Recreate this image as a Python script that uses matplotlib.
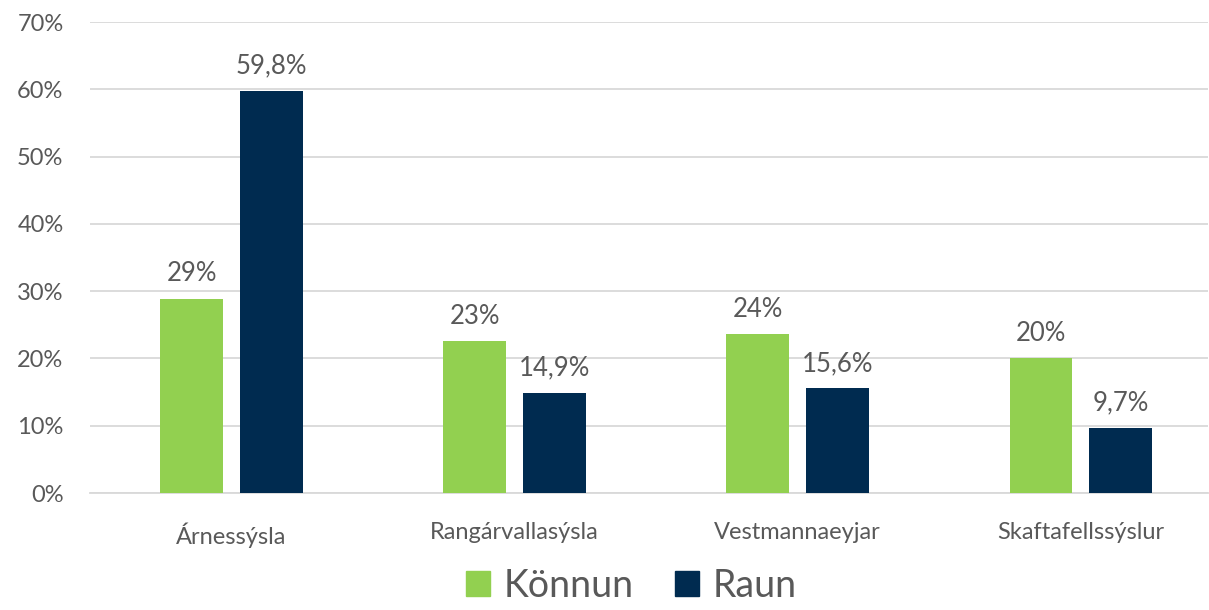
import matplotlib
matplotlib.use('Agg')
from matplotlib import pyplot as plt
from matplotlib.patches import Patch
import numpy as np

plt.rcParams['font.family'] = ['Lato', 'DejaVu Sans']

# Data
categories = ['Árnessýsla', 'Rangárvallasýsla', 'Vestmannaeyjar', 'Skaftafellssýslur']
series_names = ['Könnun', 'Raun']
konnun = [28.9, 22.6, 23.6, 20.0]
raun = [59.8, 14.9, 15.6, 9.7]
konnun_labels = ['29%', '23%', '24%', '20%']
raun_labels = ['59,8%', '14,9%', '15,6%', '9,7%']
yticks = [0, 10, 20, 30, 40, 50, 60, 70]

green = '#92D050'
navy = '#002B50'
grey = '#595959'

fig = plt.figure(figsize=(12.09, 6.10), dpi=100)
ax = fig.add_axes([0.0744, 0.1918, 0.925, 0.772])

x = np.arange(len(categories))
w = 0.222
off = 0.141
b1 = ax.bar(x - off, konnun, w, color=green, zorder=3)
b2 = ax.bar(x + off, raun, w, color=navy, zorder=3)

for rect, lab in zip(b1, konnun_labels):
    ax.text(rect.get_x() + rect.get_width() / 2, rect.get_height() + 1.8, lab,
            ha='center', va='bottom', fontsize=18.5, color=grey)
for rect, lab in zip(b2, raun_labels):
    ax.text(rect.get_x() + rect.get_width() / 2, rect.get_height() + 1.8, lab,
            ha='center', va='bottom', fontsize=18.5, color=grey)

ax.set_ylim(0, 70)
ax.set_xlim(-0.5, 3.45)
ax.set_yticks(yticks)
ax.set_yticklabels([f'{v}%' for v in yticks], fontsize=17, color=grey)
ax.set_xticks(x)
ax.set_xticklabels(categories, fontsize=17, color=grey)
ax.tick_params(axis='both', length=0)
ax.tick_params(axis='x', pad=21)
ax.tick_params(axis='y', pad=19)
ax.grid(axis='y', color='#D9D9D9', linewidth=1.3, zorder=0)
for s in ['top', 'right', 'left']:
    ax.spines[s].set_visible(False)
ax.spines['bottom'].set_color('#D9D9D9')
ax.spines['bottom'].set_linewidth(1.3)

handles = [Patch(color=green), Patch(color=navy)]
leg = fig.legend(handles, series_names, loc='lower center', bbox_to_anchor=(0.522, -0.045),
                 ncol=2, frameon=False, fontsize=27, handlelength=0.65, handleheight=0.65,
                 handletextpad=0.35, columnspacing=1.1)
for t in leg.get_texts():
    t.set_color(grey)

fig.savefig('out.png', dpi=100)
